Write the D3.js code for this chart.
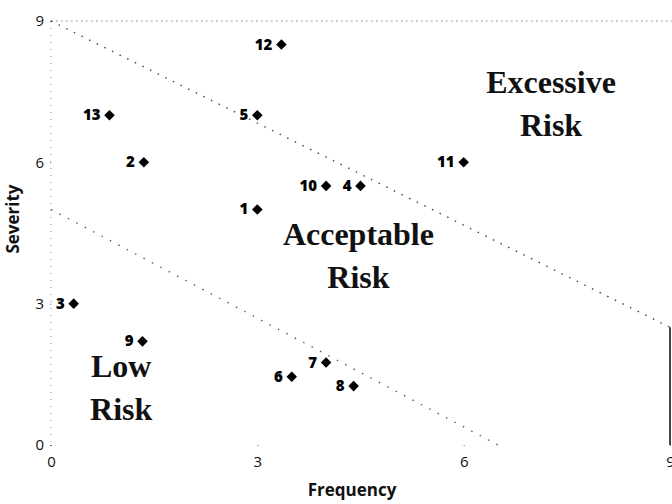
<!DOCTYPE html>
<html>
<head>
<meta charset="utf-8">
<script src="https://cdn.jsdelivr.net/npm/d3@7"></script>
<style>
  html, body { margin: 0; padding: 0; background: #fff; }
  svg { display: block; }
</style>
</head>
<body>
<svg id="chart" width="672" height="504"></svg>
<script>
// ---- data ----
const pointIds   = ["1","2","3","4","5","6","7","8","9","10","11","12","13"];
const frequency  = [3.0, 1.35, 0.33, 4.5, 3.0, 3.5, 4.0, 4.4, 1.33, 4.0, 6.0, 3.35, 0.85];
const severity   = [5.0, 6.0, 3.0, 5.5, 7.0, 1.45, 1.75, 1.25, 2.2, 5.5, 6.0, 8.5, 7.0];
const xTicks     = [0, 3, 6, 9];
const yTicks     = [0, 3, 6, 9];
// boundary lines (frequency, severity endpoints)
const upperBoundary = [[0, 9], [9, 2.5]];
const lowerBoundary = [[0, 5], [6.5, 0]];
const closingEdge   = [[9, 2.5], [9, 0]];
const regionNames   = [["Excessive", "Risk"], ["Acceptable", "Risk"], ["Low", "Risk"]];
const regionAnchor  = [[7.27, 7.47], [4.47, 4.25], [1.02, 1.45]];
const xTitle = "Frequency";
const yTitle = "Severity";

// ---- layout ----
const svg = d3.select("#chart");
const x = d3.scaleLinear().domain([0, 9]).range([51, 670]);
const y = d3.scaleLinear().domain([0, 9]).range([445, 21]);

const sansBold = "'Open Sans', 'DejaVu Sans', sans-serif";
const serif = "'Liberation Serif', 'Times New Roman', serif";

// top dotted frame line (severity = 9)
svg.append("line")
  .attr("x1", x(0)).attr("x2", 672)
  .attr("y1", y(9)).attr("y2", y(9))
  .attr("stroke", "#888").attr("stroke-width", 1)
  .attr("stroke-dasharray", "1.5,3.5");

// left dotted axis
svg.append("line")
  .attr("x1", x(0)).attr("x2", x(0))
  .attr("y1", y(9)).attr("y2", y(0))
  .attr("stroke", "#888").attr("stroke-width", 1)
  .attr("stroke-dasharray", "1,6");

// boundary lines
const line = d3.line().x(d => x(d[0])).y(d => y(d[1]));
svg.append("path").datum(upperBoundary).attr("d", line)
  .attr("fill", "none").attr("stroke", "#444").attr("stroke-width", 1.4)
  .attr("stroke-dasharray", "1.5,7");
svg.append("path").datum(lowerBoundary).attr("d", line)
  .attr("fill", "none").attr("stroke", "#555").attr("stroke-width", 1.3)
  .attr("stroke-dasharray", "1.5,8");
svg.append("path").datum(closingEdge).attr("d", line)
  .attr("fill", "none").attr("stroke", "#333").attr("stroke-width", 1.8);

// axes (tick labels)
const yAxis = svg.append("g")
  .attr("transform", `translate(${x(0)},0)`)
  .call(d3.axisLeft(y).tickValues(yTicks).tickSize(2).tickPadding(5).tickFormat(d3.format("d")));
const xAxis = svg.append("g")
  .attr("transform", `translate(0,${y(0)})`)
  .call(d3.axisBottom(x).tickValues(xTicks).tickSize(2).tickPadding(9).tickFormat(d3.format("d")));
[yAxis, xAxis].forEach(g => {
  g.select(".domain").remove();
  g.selectAll(".tick line").attr("stroke", "#666").attr("stroke-dasharray", "1,1");
  g.selectAll(".tick text")
    .attr("fill", "#111")
    .style("font-family", "'Open Sans', 'DejaVu Sans', sans-serif")
    .style("font-size", "15px");
});

// axis titles
svg.append("text")
  .attr("x", 352).attr("y", 496)
  .attr("text-anchor", "middle")
  .style("font-family", sansBold).style("font-weight", "700").style("font-size", "17px")
  .attr("fill", "#111")
  .text(xTitle);
svg.append("text")
  .attr("transform", "translate(19,219) rotate(-90)")
  .attr("text-anchor", "middle")
  .style("font-family", sansBold).style("font-weight", "700").style("font-size", "17px")
  .attr("fill", "#111")
  .text(yTitle);

// region labels
regionNames.forEach((lines, i) => {
  const t = svg.append("text")
    .attr("text-anchor", "middle")
    .style("font-family", serif).style("font-weight", "700").style("font-size", "32px")
    .attr("fill", "#111");
  lines.forEach((s, j) => {
    t.append("tspan")
      .attr("x", x(regionAnchor[i][0]))
      .attr("y", y(regionAnchor[i][1]) + j * 43)
      .text(s);
  });
});

// points
const pts = pointIds.map((id, i) => ({ id, f: frequency[i], s: severity[i] }));
const diamond = d3.symbol(d3.symbolSquare, 56);
const g = svg.append("g");
g.selectAll("path.pt").data(pts).join("path")
  .attr("class", "pt")
  .attr("d", diamond)
  .attr("transform", d => `translate(${x(d.f)},${y(d.s)}) rotate(45)`)
  .attr("fill", "#000");
g.selectAll("text.lbl").data(pts).join("text")
  .attr("class", "lbl")
  .attr("x", d => x(d.f) - 9)
  .attr("y", d => y(d.s) + 5)
  .attr("text-anchor", "end")
  .style("font-family", sansBold).style("font-weight", "800").style("font-size", "15px")
  .attr("fill", "#000")
  .text(d => d.id);
</script>
</body>
</html>
